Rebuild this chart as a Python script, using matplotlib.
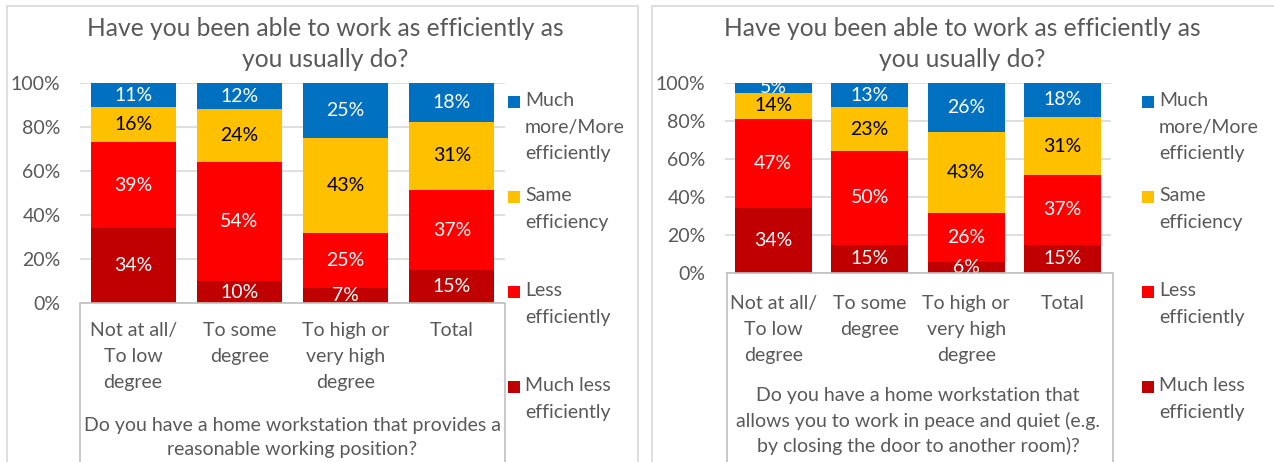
import matplotlib.pyplot as plt
from matplotlib.patches import Rectangle
import numpy as np

plt.rcParams['font.family'] = 'Lato'

W, H = 1274, 462
GREY = '#595959'
LINE = '#D9D9D9'

categories = ['Not at all/\nTo low\ndegree', 'To some\ndegree', 'To high or\nvery high\ndegree', 'Total']
series_names = ['Much less\nefficiently', 'Less\nefficiently', 'Same\nefficiency', 'Much\nmore/More\nefficiently']
colors = ['#C00000', '#FF0000', '#FFC000', '#0070C0']
label_colors = ['white', 'white', 'black', 'white']
title = 'Have you been able to work as efficiently as\nyou usually do?'

# left chart: reasonable working position
left_much_less = [34, 10, 7, 15]
left_less = [39, 54, 25, 37]
left_same = [16, 24, 43, 31]
left_more = [11, 12, 25, 18]
left_xlabel = 'Do you have a home workstation that provides a\nreasonable working position?'

# right chart: peace and quiet
right_much_less = [34, 15, 6, 15]
right_less = [47, 50, 26, 37]
right_same = [14, 23, 43, 31]
right_more = [5, 13, 26, 18]
right_xlabel = ('Do you have a home workstation that\nallows you to work in peace and quiet (e.g.\n'
                'by closing the door to another room)?')


def fig_rect(x, y, w, h):
    # pixel box (top-left origin) -> figure fraction
    return [x / W, 1 - (y + h) / H, w / W, h / H]


def draw_panel(fig, border, axbox, catbox, series, xlabel, tickpad, labelpad, leg_x, title_x):
    bx, by, bw, bh = border
    fig.patches.append(Rectangle((bx / W, 1 - (by + bh) / H), bw / W, bh / H,
                                 transform=fig.transFigure, facecolor='white',
                                 edgecolor=LINE, lw=1.2, zorder=-1))
    ax = fig.add_axes(fig_rect(*axbox))
    ax.set_facecolor('none')
    ax.set_axisbelow(False)

    data = np.array(series, dtype=float)
    shares = data / data.sum(axis=0) * 100
    x = np.arange(len(categories))
    bottom = np.zeros(len(categories))
    for i in range(len(series)):
        bars = ax.bar(x, shares[i], 0.8, bottom=bottom, color=colors[i], zorder=1)
        ax.bar_label(bars, labels=[f'{v}%' for v in series[i]], label_type='center',
                     color=label_colors[i], fontsize=14, zorder=1.8)
        bottom += shares[i]

    for t in range(0, 101, 20):
        ax.axhline(t, color=LINE, lw=1.2, zorder=0.5)

    ax.set_xlim(-0.5, len(categories) - 0.5)
    ax.set_ylim(0, 100)
    ax.set_yticks(range(0, 101, 20))
    ax.set_yticklabels([f'{t}%' for t in range(0, 101, 20)])
    ax.set_xticks(x)
    ax.set_xticklabels(categories, linespacing=1.62)
    ax.tick_params(axis='both', length=0, colors=GREY, labelsize=14)
    ax.tick_params(axis='x', pad=tickpad)
    ax.tick_params(axis='y', pad=14)
    for s in ax.spines.values():
        s.set_visible(False)
    ax.set_xlabel(xlabel, fontsize=14, color=GREY, labelpad=labelpad, linespacing=1.5)

    # box that holds the category axis
    cx, cy, cw, ch = catbox
    ax.add_patch(Rectangle((cx / W, 1 - (cy + ch) / H), cw / W, ch / H,
                           transform=fig.transFigure, facecolor='white',
                           edgecolor='#BFBFBF', lw=1.2, zorder=2, clip_on=False))

    fig.text(title_x / W, 1 - 44 / H, title, ha='center', va='center',
             fontsize=17.7, color=GREY, linespacing=1.45)

    # legend, top to bottom
    tops = [96, 191, 286, 381]
    for k, top in enumerate(tops):
        i = len(series) - 1 - k
        fig.patches.append(Rectangle((leg_x / W, 1 - (top + 12) / H), 12 / W, 12 / H,
                                     transform=fig.transFigure, facecolor=colors[i],
                                     edgecolor='none'))
        fig.text((leg_x + 17) / W, 1 - (top - 4) / H, series_names[i], ha='left',
                 va='top', fontsize=14, color=GREY, linespacing=1.68)
    return ax


fig = plt.figure(figsize=(W / 100, H / 100), dpi=100)

draw_panel(fig, (7, 6, 631, 470), (80, 83, 425, 220), (80, 303, 425, 170),
           [left_much_less, left_less, left_same, left_more], left_xlabel, 14, 19, 508, 325)
draw_panel(fig, (652, 6, 630, 470), (725, 83, 386, 190), (727, 273, 386, 200),
           [right_much_less, right_less, right_same, right_more], right_xlabel, 16, 17, 1142, 962)

fig.savefig('out.png', dpi=100)
